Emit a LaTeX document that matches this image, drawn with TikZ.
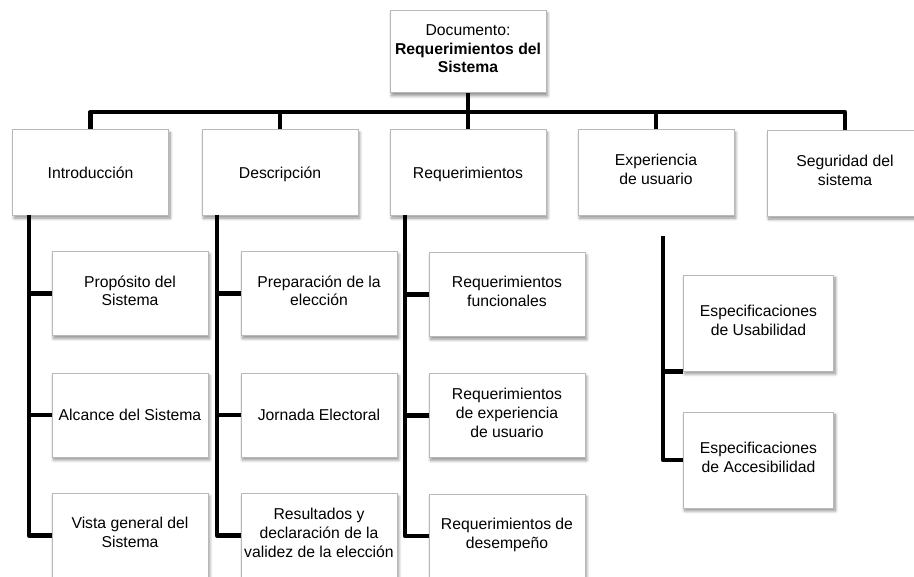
\documentclass[tikz,border=0pt]{standalone}
\usepackage{fontspec}
\setmainfont{Liberation Sans}
\usetikzlibrary{shadows.blur}
\begin{document}
\begin{tikzpicture}[x=0.75pt,y=-0.75pt,
  box/.style={draw=black!28, line width=0.6pt, fill=white, inner sep=0pt,
    align=center, font=\fontsize{11.8}{14.1}\selectfont,
    execute at begin node={\rule{0pt}{12.9pt}}, execute at end node={\strut},
    blur shadow={shadow xshift=1.2pt, shadow yshift=-2.2pt, shadow blur radius=2.2pt, shadow blur steps=8, shadow opacity=45}},
  topbox/.style={box, minimum width=117pt, minimum height=64pt},
  childbox/.style={box, minimum width=117pt, minimum height=63pt},
  expbox/.style={box, minimum width=113pt, minimum height=72pt},
  conn/.style={draw=black, line width=3.6pt, line join=round, line cap=butt}]
\useasboundingbox (0,0) rectangle (914,577);
% top
\node[box, minimum width=117pt, minimum height=62pt] (doc) at (468,51.5)
  {Documento:\\\textbf{Requerimientos del}\\\textbf{Sistema}};
% second level
\node[topbox] (intro) at (90.5,172.5) {Introducción};
\node[topbox] (desc) at (280,172.5) {Descripción};
\node[topbox] (req) at (468,172.5) {Requerimientos};
\node[topbox] (exp) at (656,172.5) {Experiencia\\de usuario};
\node[topbox] (seg) at (845,173.5) {Seguridad del\\sistema};
% children intro
\node[childbox] (i1) at (130,293.5) {Propósito del\\Sistema};
\node[childbox] (i2) at (130,415) {Alcance del Sistema};
\node[childbox] (i3) at (130,535.5) {Vista general del\\Sistema};
% children desc
\node[childbox] (d1) at (319,293.5) {Preparación de la\\elección};
\node[childbox] (d2) at (319,415) {Jornada Electoral};
\node[childbox] (d3) at (319,535.5) {Resultados y\\declaración de la\\validez de la elección};
% children req
\node[childbox] (r1) at (507,294.5) {Requerimientos\\funcionales};
\node[childbox] (r2) at (507,415.5) {Requerimientos\\de experiencia\\de usuario};
\node[childbox] (r3) at (507,536) {Requerimientos de\\desempeño};
% children exp
\node[expbox] (e1) at (758.5,323) {Especificaciones\\de Usabilidad};
\node[expbox] (e2) at (758.5,460) {Especificaciones\\de Accesibilidad};
% bus
\coordinate (busL) at (90.5,112);
\coordinate (busR) at (845,112);
\draw[conn] (intro.north) -- (busL) -- (busR) -- (seg.north);
\draw[conn] (doc.south) -- (req.north);
\draw[conn] (desc.north) -- (desc.north |- busL);
\draw[conn] (exp.north) -- (exp.north |- busL);
% trunks
\coordinate (ti) at (29,215);
\coordinate (td) at (217,215);
\coordinate (tr) at (405,215);
\coordinate (te) at (663,236);
\draw[conn] (ti) |- (i3.west);
\draw[conn] (ti |- i1.west) -- (i1.west);
\draw[conn] (ti |- i2.west) -- (i2.west);
\draw[conn] (td) |- (d3.west);
\draw[conn] (td |- d1.west) -- (d1.west);
\draw[conn] (td |- d2.west) -- (d2.west);
\draw[conn] (tr) |- (r3.west);
\draw[conn] (tr |- r1.west) -- (r1.west);
\draw[conn] (tr |- r2.west) -- (r2.west);
\draw[conn] (te) |- (e2.west);
\draw[conn] (te |- e1.south west) -- (e1.south west);
\end{tikzpicture}
\end{document}
